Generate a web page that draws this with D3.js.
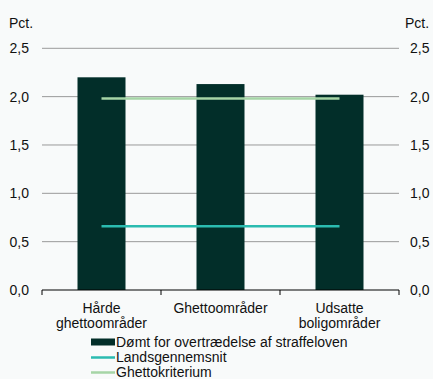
<!DOCTYPE html>
<html><head><meta charset="utf-8">
<script src="https://cdn.jsdelivr.net/npm/d3@7"></script>
<style>
html,body{margin:0;padding:0;background:#f8fafa;}
svg{display:block;font-family:"Liberation Sans",Arial,sans-serif;}
</style></head>
<body>
<svg id="chart" width="433" height="379"></svg>
<script>
const categories = [["Hårde","ghettoområder"],["Ghettoområder"],["Udsatte","boligområder"]];
const domt = [2.20, 2.13, 2.02];
const landsgennemsnit = [0.66, 0.66, 0.66];
const ghettokriterium = [1.98, 1.98, 1.98];
const yTicks = [0, 0.5, 1.0, 1.5, 2.0, 2.5];
const legendLabels = ["Dømt for overtrædelse af straffeloven","Landsgennemsnit","Ghettokriterium"];
const colors = {bar:"#022e29", lands:"#2bbbb0", ghetto:"#a6d5a6", grid:"#9a9a9a"};
const fs = 14;

const svg = d3.select("#chart");
const m = {left:42, right:399, top:48.3, bottom:290};
const x = d3.scaleBand().domain(d3.range(categories.length)).range([m.left, m.right]).paddingInner(0).paddingOuter(0);
const y = d3.scaleLinear().domain([0, 2.5]).range([m.bottom, m.top]);
const fmt = v => d3.format(".1f")(v).replace(".", ",");

// gridlines
svg.append("g").selectAll("line").data(yTicks.filter(d=>d>0)).join("line")
  .attr("x1", m.left).attr("x2", m.right)
  .attr("y1", d=>y(d)).attr("y2", d=>y(d))
  .attr("stroke", colors.grid).attr("stroke-width", 1);

// left labels
svg.append("g").selectAll("text").data(yTicks).join("text")
  .attr("x", 29).attr("y", d=>y(d)).attr("dy","0.35em")
  .attr("text-anchor","end").attr("font-size",fs).attr("fill","#111")
  .text(fmt);
// right labels
svg.append("g").selectAll("text").data(yTicks).join("text")
  .attr("x", 410).attr("y", d=>y(d)).attr("dy","0.35em")
  .attr("text-anchor","start").attr("font-size",fs).attr("fill","#111")
  .text(fmt);
svg.append("text").attr("x",9).attr("y",28).attr("font-size",fs).attr("fill","#111").text("Pct.");
svg.append("text").attr("x",405).attr("y",28).attr("font-size",fs).attr("fill","#111").text("Pct.");

// bars
const bw = 48;
svg.append("g").selectAll("rect").data(domt).join("rect")
  .attr("x",(d,i)=>x(i)+x.bandwidth()/2-bw/2).attr("width",bw)
  .attr("y",d=>y(d)).attr("height",d=>y(0)-y(d)).attr("fill",colors.bar);

// lines
const cx = i => x(i)+x.bandwidth()/2;
const line = d3.line().x((d,i)=>cx(i)).y(d=>y(d));
svg.append("path").datum(landsgennemsnit).attr("d",line).attr("fill","none")
  .attr("stroke",colors.lands).attr("stroke-width",2.5);
svg.append("path").datum(ghettokriterium).attr("d",line).attr("fill","none")
  .attr("stroke",colors.ghetto).attr("stroke-width",2.5);

// x axis
const xAxis = d3.axisBottom(x).tickSize(0).tickFormat("");
const ax = svg.append("g").attr("transform",`translate(0,${y(0)})`).call(xAxis);
ax.select(".domain").remove();
svg.append("line").attr("x1",m.left).attr("x2",m.right).attr("y1",y(0)).attr("y2",y(0))
  .attr("stroke","#000").attr("stroke-width",1);
const bounds = d3.range(categories.length+1).map(i => i<categories.length ? x(i) : m.right);
svg.append("g").selectAll("line").data(bounds).join("line")
  .attr("x1",d=>d).attr("x2",d=>d).attr("y1",y(0)).attr("y2",y(0)+5)
  .attr("stroke","#000").attr("stroke-width",1);

// category labels
const cl = svg.append("g").selectAll("text").data(categories).join("text")
  .attr("x",(d,i)=>cx(i)).attr("y",313).attr("text-anchor","middle")
  .attr("font-size",fs).attr("fill","#111");
cl.selectAll("tspan").data(d=>d).join("tspan")
  .attr("x",function(){return d3.select(this.parentNode).attr("x");})
  .attr("dy",(d,i)=>i===0?0:14.5).text(d=>d);

// legend
const lg = svg.append("g");
const ly = [342, 357.5, 372.5];
lg.append("rect").attr("x",91).attr("y",ly[0]-3.5).attr("width",24).attr("height",7).attr("fill",colors.bar);
lg.append("line").attr("x1",91).attr("x2",115).attr("y1",ly[1]).attr("y2",ly[1]).attr("stroke",colors.lands).attr("stroke-width",2.5);
lg.append("line").attr("x1",91).attr("x2",115).attr("y1",ly[2]).attr("y2",ly[2]).attr("stroke",colors.ghetto).attr("stroke-width",2.5);
lg.selectAll("text").data(legendLabels).join("text")
  .attr("x",116).attr("y",(d,i)=>ly[i]).attr("dy","0.35em")
  .attr("font-size",fs).attr("fill","#111").text(d=>d);
</script>
</body></html>
